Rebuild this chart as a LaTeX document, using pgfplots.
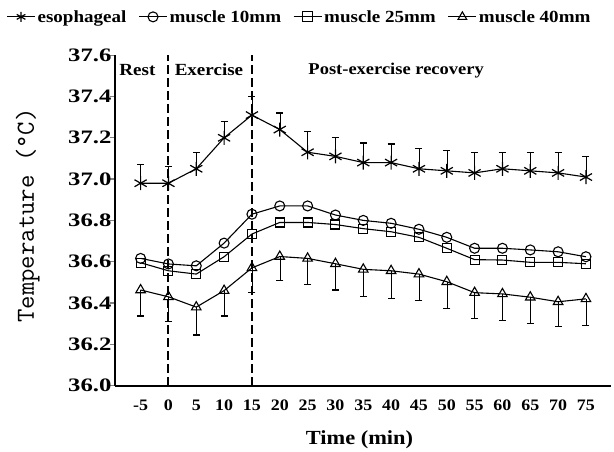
\documentclass[border=0pt]{standalone}
\usepackage{fontspec}
\setmainfont{Liberation Serif}[FakeStretch=1.12]
\newfontfamily\ticfont{Liberation Serif}[FakeStretch=1.3]
\usepackage{pgfplots}
\usepackage{pgfplotstable}
\pgfplotsset{compat=1.18}
\pgfplotstableread{
x eso esoerr mten mtwf mfrt mfrterr
-5 36.98 0.09 36.616 36.595 36.463 0.126
0 36.98 0.08 36.589 36.556 36.43 0.12
5 37.05 0.08 36.58 36.54 36.38 0.135
10 37.20 0.08 36.69 36.624 36.46 0.123
15 37.31 0.09 36.83 36.734 36.57 0.12
20 37.24 0.08 36.87 36.79 36.625 0.117
25 37.13 0.10 36.87 36.79 36.616 0.126
30 37.11 0.09 36.826 36.78 36.59 0.127
35 37.08 0.095 36.80 36.76 36.563 0.133
40 37.08 0.09 36.786 36.745 36.556 0.136
45 37.05 0.10 36.757 36.718 36.54 0.13
50 37.04 0.10 36.718 36.665 36.503 0.13
55 37.03 0.10 36.665 36.61 36.45 0.124
60 37.05 0.08 36.665 36.608 36.444 0.13
65 37.04 0.09 36.657 36.597 36.428 0.128
70 37.03 0.10 36.648 36.597 36.406 0.12
75 37.01 0.10 36.624 36.59 36.42 0.127
}\data
\begin{document}
\begin{tikzpicture}
\path[use as bounding box] (-115pt,-66.4pt) rectangle (499pt,385.6pt);
\begin{axis}[
  scale only axis, width=496pt, height=330.4pt,
  xmin=-9.6, xmax=79.5, ymin=36.0, ymax=37.6,
  axis x line*=bottom, axis y line*=left,
  axis line style={line width=2pt},
  xtick={-5,0,...,75}, ytick={36.0,36.2,...,37.6},
  major x tick style={draw=none},
  major y tick style={line width=1.2pt},
  tick align=outside, major tick length=5pt,
  /pgf/number format/assume math mode=true,
  yticklabel style={/pgf/number format/.cd, fixed, fixed zerofill, precision=1, /tikz/.cd, font=\fontsize{19}{19}\ticfont\bfseries, xshift=5pt},
  xticklabel style={font=\fontsize{16}{16}\selectfont\bfseries, yshift=-6pt},
  xlabel={Time (min)}, xlabel style={font=\fontsize{20}{20}\selectfont\bfseries, at={(axis description cs:0.493,-0.164)}, anchor=center},
  ylabel={Temperature (\textdegree C)}, ylabel style={font=\fontsize{26}{26}\ttfamily, at={(axis description cs:-0.176,0.515)}, anchor=center},
  legend columns=4,
  legend style={draw=none, fill=none, at={(axis description cs:0.372,1.116)}, anchor=center, font=\fontsize{17}{17}\selectfont\bfseries, /tikz/every even column/.append style={column sep=10pt}, inner xsep=0pt},
  legend cell align=left,
  legend image code/.code={\draw[#1, mark size=5pt, mark repeat=2, mark phase=2] plot coordinates {(0pt,0pt) (14pt,0pt) (28pt,0pt)};},
  every axis plot/.append style={black, line width=1.1pt},
  clip=false,
]
\addplot[mark=asterisk, mark size=7pt, mark options={line width=1.2pt},
  error bars/.cd, y dir=plus, y explicit, error mark options={rotate=90, mark size=3.5pt, line width=1.1pt}]
  table[x=x, y=eso, y error=esoerr] {\data};
\addlegendentry{esophageal}
\addplot[mark=o, mark size=5pt, mark options={fill=white, line width=1.1pt}]
  table[x=x, y=mten] {\data};
\addlegendentry{muscle 10mm}
\addplot[mark=square, mark size=4.5pt, mark options={fill=white, line width=1.1pt}]
  table[x=x, y=mtwf] {\data};
\addlegendentry{muscle 25mm}
\addplot[mark=triangle, mark size=5.5pt, mark options={fill=white, line width=1.1pt},
  error bars/.cd, y dir=minus, y explicit, error mark options={rotate=90, mark size=3.5pt, line width=1.1pt}]
  table[x=x, y=mfrt, y error=mfrterr] {\data};
\addlegendentry{muscle 40mm}
\draw[line width=2pt, dash pattern=on 9pt off 4pt] (axis cs:0,36.0) -- (axis cs:0,37.6);
\draw[line width=2pt, dash pattern=on 9pt off 4pt] (axis cs:15,36.0) -- (axis cs:15,37.6);
\node[font=\fontsize{17}{17}\selectfont\bfseries] at (axis cs:-5.57,37.528) {Rest};
\node[font=\fontsize{17}{17}\selectfont\bfseries] at (axis cs:7.28,37.528) {Exercise};
\node[font=\fontsize{16.5}{16.5}\selectfont\bfseries] at (axis cs:40.9,37.528) {Post-exercise recovery};
\end{axis}
\end{tikzpicture}
\end{document}
